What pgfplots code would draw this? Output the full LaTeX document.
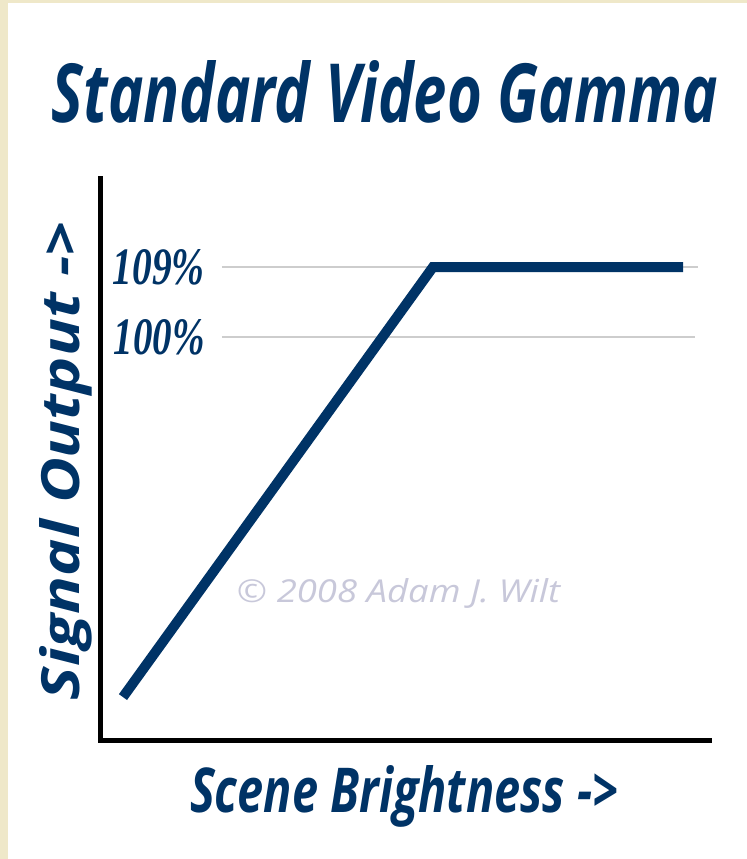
\documentclass[border=0pt]{standalone}
\usepackage{pgfplots}
\pgfplotsset{compat=1.18}
\usepackage{fontspec}
\usepackage{graphicx}
\setmainfont{Open Sans}
\newfontfamily\lblfont{Open Sans}
\newfontfamily\tickfont{Liberation Serif}
\definecolor{navy}{RGB}{0,51,102}
\definecolor{cream}{RGB}{239,232,201}
\definecolor{wm}{RGB}{200,200,218}
\definecolor{gridc}{RGB}{205,205,205}
\begin{document}
\begin{tikzpicture}
\fill[cream] (0pt,0pt) rectangle (373.5pt,-429.5pt);
\fill[white] (4pt,-1.5pt) rectangle (373.5pt,-429.5pt);
\begin{axis}[
  at={(50pt,-370pt)}, anchor=south west,
  scale only axis, width=305pt, height=281pt,
  xmin=0, xmax=183.2, ymin=48.19, ymax=120.45,
  axis x line*=bottom, axis y line*=left,
  axis line style={-, black, line width=2.5pt, line cap=rect},
  every outer x axis line/.append style={-},
  every outer y axis line/.append style={-},
  xtick=\empty, ytick={100,109},
  yticklabels={\resizebox{45.5pt}{17.5pt}{\tickfont\bfseries\itshape 100\%},\resizebox{46pt}{17.5pt}{\tickfont\bfseries\itshape 109\%}},
  major tick length=0pt,
  yticklabel style={anchor=east, inner sep=0pt, xshift=52.5pt, text=navy},
  title={\resizebox{333pt}{31pt}{\lblfont\bfseries\itshape Standard Video Gamma}},
  title style={at={(axis description cs:0.4672,1.0979)}, anchor=base, inner sep=0pt, yshift=-6pt, text=navy},
  xlabel={\resizebox{214pt}{23.5pt}{\lblfont\bfseries\itshape Scene Brightness ->}},
  xlabel style={at={(axis description cs:0.4984,-0.1281)}, anchor=base, inner sep=0pt, text=navy},
  ylabel={\resizebox{239pt}{20pt}{\lblfont\bfseries\itshape Signal Output ->}},
  ylabel style={at={(axis description cs:-0.0328,0.4964)}, anchor=base, inner sep=0pt, text=navy},
  clip=false,
]
\addplot[gridc, line width=1.2pt] coordinates {(36.6,109) (179.6,109)};
\addplot[gridc, line width=1.2pt] coordinates {(36.6,100) (178.7,100)};
\addplot[navy, line width=5pt, line join=miter] coordinates {(6.9,53.71) (100,109) (175.1,109)};
\node[anchor=base, inner sep=0pt, text=wm] at (axis description cs:0.4893,0.2438)
  {\resizebox{161.5pt}{12pt}{\lblfont\itshape \textcopyright{} 2008 Adam J. Wilt}};
\end{axis}
\end{tikzpicture}
\end{document}
